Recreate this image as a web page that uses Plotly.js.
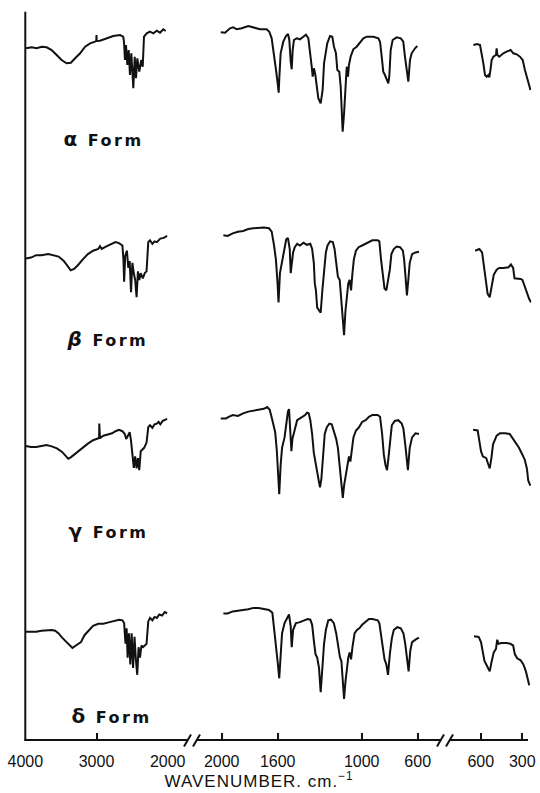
<!DOCTYPE html>
<html><head><meta charset="utf-8">
<script src="https://cdn.plot.ly/plotly-3.0.1.min.js"></script>
<style>html,body{margin:0;padding:0;background:#fff}#chart{width:540px;height:793px}</style>
</head><body><div id="chart"></div>
<script>
// ---- tick labels / categories ----
const leftTicks = [4000, 3000, 2000];
const midTicks = [2000, 1600, 1000, 600];
const rightTicks = [600, 300];
const formLetters = ['α', 'β', 'γ', 'δ'];
const axisTitle = 'WAVENUMBER. cm.<sup>−1</sup>';

// ---- alpha form (relative transmittance) ----
const alphaLeftWn = [3990,3910,3840,3770,3700,3630,3560,3490,3420,3360,3300,3230,3160,3090,3020,3003,3000,2997,2950,2860,2765,2670,2625,2614,2600,2586,2567,2548,2530,2511,2483,2463,2445,2427,2399,2371,2351,2333,2295,2249,2202,2154,2108,2062,2028];
const alphaLeftT = [86.7,87.7,86.7,88.3,87.7,85,80,75,71.7,72.3,76.7,81.7,88.3,91.7,93.3,94,100,94,94.3,96.7,99,100,98.3,93.3,75,90,70,85,60,81.7,46.7,78.3,56.7,76.7,63.3,75,68.3,98.3,101.7,103.3,101.7,104.3,102.3,105.7,104];
const alphaMidWn = [2007,1976,1941,1917,1893,1857,1810,1774,1726,1679,1660,1643,1626,1612,1600,1593,1588,1579,1560,1541,1526,1517,1507,1500,1493,1484,1464,1441,1417,1398,1381,1369,1357,1350,1341,1331,1321,1310,1293,1279,1269,1255,1246,1226,1210,1198,1184,1174,1160,1150,1141,1136,1126,1117,1107,1098,1091,1079,1060,1036,1012,988,964,917,881,869,857,846,834,821,810,803,793,779,750,721,703,691,679,667,655,643,619,603];
const alphaMidT = [102.7,102.3,106.7,107.7,105.7,106.7,109,107.7,105.7,105.7,103.3,96.7,81.7,65,51.7,42.3,58.3,81.7,93.3,99,101,95,73.3,65.7,85,95,96.7,95.7,98.3,100.3,96.7,85,68.3,58.3,66.7,60,48.3,36.7,31.7,45,71.7,83.3,91.7,99,98.3,88.3,81.7,65,63.3,48.3,21.7,3.3,21.7,45,68.3,58.3,70,78.3,85.7,88.3,92.3,96.7,98.3,98.3,96.7,93.3,78.3,63.3,60,55,51.7,58.3,85,95,97.7,96.7,93.3,78.3,65,53.3,75,81.7,86.7,89];
const alphaRightWn = [653,625,605,593,581,569,557,545,538,528,521,509,490,485,480,466,437,413,384,365,340,317,297,281,265,254,241];
const alphaRightT = [90,91,90,81.7,71.7,60,58.3,60,57.7,66.7,75,78.3,80,86.7,80,78.3,81.7,83.3,85,81.7,80.7,78.3,75,65,56.7,50,45];

// ---- beta form ----
const betaLeftWn = [3992,3920,3847,3774,3677,3605,3532,3459,3411,3362,3315,3265,3192,3121,3048,2975,2951,2927,2854,2781,2733,2684,2636,2622,2612,2597,2573,2553,2534,2515,2496,2476,2457,2437,2418,2399,2379,2350,2322,2297,2273,2249,2215,2185,2152,2104,2055,2007];
const betaLeftT = [81.4,82.4,84.8,84.8,85.9,84.8,83.4,79,73.8,69.7,71,74.5,80.7,85.9,89.3,91,93.8,91,93.8,96.2,97.9,96.9,94.5,80.7,58.3,84.1,89.3,72.1,79,47.9,77.2,66.9,60,42.8,68.6,60,66.9,61.7,66.9,68.6,97.9,99.7,96.2,98.6,97.9,101.4,102.1,104.1];
const betaMidWn = [1988,1958,1921,1884,1847,1810,1774,1736,1699,1662,1643,1626,1613,1601,1594,1584,1569,1551,1539,1527,1514,1507,1500,1490,1478,1461,1441,1416,1391,1367,1354,1342,1335,1327,1318,1305,1293,1281,1269,1256,1244,1226,1206,1194,1182,1170,1157,1145,1133,1126,1116,1106,1096,1086,1076,1066,1056,1041,1022,997,972,948,924,886,874,862,849,837,824,812,799,788,771,751,726,706,697,687,677,667,657,640,616,591];
const betaMidT = [104.8,104.1,106.6,108.3,109,111,111.7,112.4,112.4,111.7,108.3,94.5,80.7,56.6,37.6,66.9,79,91,100.7,102.1,91,66.9,77.2,87.6,92.8,96.2,94.5,97.2,95.2,96.2,91,77.2,56.6,49.7,32.4,29,27.2,49.7,70.3,87.6,94.5,98.6,97.9,91,77.2,63.4,60,35.9,15.2,4.8,29,46.2,56.6,60,49.7,66.9,80.7,89.3,92.8,94.5,96.2,98.6,99.7,99.7,98.6,80.7,61.7,51.4,49.7,58.3,70.3,85.9,91,93.4,92.8,89.3,80.7,63.4,44.5,60,77.2,85.9,87.6,88.3];
const betaRightWn = [640,610,590,580,570,560,550,535,523,506,485,466,436,399,382,366,356,337,312,299,287,267,250,237];
const betaRightT = [89.3,91,87.6,77.2,66.9,53.1,46.2,42.8,53.1,65.2,70.3,72.1,72.1,72.8,75.5,72.1,61.7,61.7,61,60,54.8,47.9,41,37.6];

// ---- gamma form ----
const gammaLeftWn = [3992,3920,3847,3774,3701,3629,3556,3483,3435,3396,3362,3315,3242,3192,3121,3048,2975,2963,2961,2958,2951,2903,2830,2781,2733,2684,2636,2603,2583,2563,2534,2515,2490,2476,2457,2437,2418,2399,2379,2360,2331,2297,2273,2249,2215,2185,2152,2128,2104,2069,2031,2007];
const gammaLeftT = [54,52.9,52.9,53.6,55,53.6,51.6,48.1,44.7,41.2,42.6,45.3,49.5,52.9,56.4,59.8,61.9,62,76.4,62,61.9,64.3,66,66.7,68.8,70.2,68.8,66,60.9,64.3,67.8,59.1,41.9,32.2,43.6,31.6,41.9,29.8,48.8,50.5,52.2,57.4,72.9,74.7,72.2,75.7,76.4,78.1,75.7,79.1,80.5,81.2];
const gammaMidWn = [2007,1970,1946,1921,1884,1847,1810,1774,1736,1699,1675,1657,1638,1618,1606,1594,1589,1579,1569,1551,1539,1527,1519,1510,1502,1495,1478,1461,1441,1421,1404,1391,1379,1367,1354,1342,1330,1318,1305,1298,1288,1276,1264,1249,1231,1214,1199,1182,1170,1157,1145,1135,1126,1113,1101,1091,1081,1071,1059,1041,1022,997,972,948,924,886,869,854,842,830,819,809,799,785,764,739,714,702,689,677,670,657,640,616,591];
const gammaMidT = [81.6,81.6,83.3,85,84,86.7,88.4,89.5,90.2,91.2,92.9,90.2,79.8,67.8,48.8,21.2,5.7,35,52.2,62.6,74.7,88.4,90.9,66,48.8,60.9,71.2,79.8,81.6,83.3,85,87.4,86.7,79.8,66,47.1,35,28.1,17.8,12.6,21.2,45.3,66,72.9,76.4,75.7,69.5,60.9,52.2,31.6,14.3,2.2,14.3,24.7,36.7,43.6,38.4,48.8,62.6,69.5,72.2,78.1,79.8,83.3,85,85,83.3,66,45.3,35,29.8,41.9,59.1,74.7,79.1,79.8,76.4,71.2,55.7,38.4,29.8,52.2,62.6,66.7,66];
const gammaRightWn = [655,622,610,598,585,560,548,535,523,511,485,461,423,391,374,349,324,299,282,267,257,242];
const gammaRightT = [70.2,69.5,59.1,48.8,43.6,41.9,36.7,31.6,41.9,55.7,64.3,66.7,66.7,66,62.6,57.4,52.2,45.3,40.2,31.6,19.5,14.3];

// ---- delta form ----
const deltaLeftWn = [3992,3920,3847,3774,3701,3629,3580,3532,3483,3411,3338,3289,3218,3169,3105,3048,2975,2903,2830,2757,2684,2636,2612,2593,2577,2563,2544,2525,2506,2486,2466,2447,2428,2409,2389,2369,2346,2297,2273,2249,2215,2185,2152,2118,2079,2041,2007];
const deltaLeftT = [70.3,70.3,70.3,71.3,72,72,71.3,68.6,64.4,58.9,54.1,56.5,59.9,66.8,72,76.1,78.2,78.2,79.6,80.6,82.3,81.7,78.9,58.2,73.7,44.4,68.6,37.5,68.6,34.1,65.1,42.7,27.2,54.8,44.4,56.5,54.8,58.2,80.6,84.1,81.7,85.1,84.1,87.5,86.5,89.9,88.6];
const deltaMidWn = [1988,1958,1921,1884,1847,1810,1774,1736,1699,1662,1638,1626,1613,1601,1589,1579,1569,1551,1534,1519,1507,1500,1490,1470,1446,1416,1386,1367,1354,1342,1330,1318,1305,1293,1281,1269,1256,1239,1219,1199,1182,1165,1155,1145,1135,1126,1116,1106,1096,1086,1076,1066,1051,1034,1017,997,972,948,924,886,874,862,849,837,824,812,799,785,771,746,721,702,689,677,665,653,640,616,591];
const deltaMidT = [88.6,88.6,90.6,91,92,92.7,94.1,94.1,92.7,92,89.2,75.4,58.2,41,23.7,51.3,68.6,78.9,84.1,87.5,75.4,54.8,72,78.9,79.6,81.7,83,82.3,77.2,61.7,47.9,44.4,34.1,9.9,34.1,58.2,72,81.7,82.3,78.9,68.6,51.3,44.4,41,23.7,3,20.3,35.8,44.4,49.6,42.7,54.8,68.6,72,73.7,77.2,80.6,83,83,81.7,78.9,66.8,51.3,42.7,37.5,27.2,47.9,63.4,72,74.8,73.7,68.6,58.2,44.4,30.6,51.3,59.9,62.3,64.4];
const deltaRightWn = [648,615,598,585,573,560,548,535,523,506,490,481,471,449,411,387,366,354,337,312,292,274,262,250];
const deltaRightT = [65.8,65.1,59.9,51.3,41,37.5,34.1,30.6,39.2,49.6,53,62.3,58.2,58.9,58.9,58.2,56.5,47.9,43.7,41.7,37.5,30.6,23.7,16.8];

// ---- layout helpers (pixel geometry of the figure) ----
const W = 540, H = 793, PLOT_H = 740;
const px = p => p / W;
const py = p => (PLOT_H - p) / PLOT_H;
const INK = '#111';

const forms = [
  {L:[alphaLeftWn,alphaLeftT], M:[alphaMidWn,alphaMidT], R:[alphaRightWn,alphaRightT]},
  {L:[betaLeftWn,betaLeftT], M:[betaMidWn,betaMidT], R:[betaRightWn,betaRightT]},
  {L:[gammaLeftWn,gammaLeftT], M:[gammaMidWn,gammaMidT], R:[gammaRightWn,gammaRightT]},
  {L:[deltaLeftWn,deltaLeftT], M:[deltaMidWn,deltaMidT], R:[deltaRightWn,deltaRightT]}
];
const panelBase = [135, 340, 500, 702];     // pixel row of value 0 for each panel
const labelY = [139, 339, 530.5, 715.5];
const labelX = [103, 107, 108, 111];

const traces = [];
forms.forEach((f, i) => {
  const ya = i === 0 ? 'y' : 'y' + (i + 1);
  [['L','x'],['M','x2'],['R','x3']].forEach(([k, xa]) => {
    traces.push({x: f[k][0], y: f[k][1], type: 'scatter', mode: 'lines',
      xaxis: xa, yaxis: ya, line: {color: INK, width: 2}, hoverinfo: 'skip', showlegend: false});
  });
});

function xax(d0, d1, range, ticks) {
  return {domain: [px(d0), px(d1)], range: range, anchor: 'free', position: 0,
    tickmode: 'array', tickvals: ticks, ticktext: ticks.map(String),
    ticks: 'inside', ticklen: 7, tickwidth: 2, tickcolor: INK,
    showline: false, showgrid: false, zeroline: false, ticklabelstandoff: 10,
    tickfont: {family: 'Liberation Sans, Arial, sans-serif', size: 16, color: INK}};
}
function yax(base) {
  return {domain: [py(base + 3), py(base - 115)], range: [-3, 115], visible: false};
}

const layout = {
  width: W, height: H, margin: {l: 0, r: 0, t: 0, b: H - PLOT_H},
  paper_bgcolor: '#fff', plot_bgcolor: '#fff', showlegend: false,
  xaxis: xax(25.3, 167.7, [4000, 2000], leftTicks),
  xaxis2: xax(218.9, 420.5, [2020, 580], midTicks),
  xaxis3: xax(472.4, 531.3, [660, 235], rightTicks),
  yaxis: yax(panelBase[0]), yaxis2: yax(panelBase[1]),
  yaxis3: yax(panelBase[2]), yaxis4: yax(panelBase[3]),
  shapes: [],
  annotations: []
};
const seg = (x0, y0, x1, y1) => ({type: 'line', xref: 'paper', yref: 'paper',
  x0: px(x0), y0: py(y0), x1: px(x1), y1: py(y1), line: {color: INK, width: 2}});
layout.shapes.push(seg(25.3, 740.5, 25.3, 11.7));
layout.shapes.push(seg(24.3, 740, 187.5, 740));
layout.shapes.push(seg(196.5, 740, 440.5, 740));
layout.shapes.push(seg(449.5, 740, 528, 740));
[187.5, 196.5, 440.5, 449.5].forEach(c => layout.shapes.push(seg(c - 3.5, 746.5, c + 3.5, 734.5)));

formLetters.forEach((g, i) => {
  layout.annotations.push({xref: 'paper', yref: 'paper', x: px(labelX[i]), y: py(labelY[i]),
    xanchor: 'center', yanchor: 'middle', showarrow: false,
    text: '<b><span style="font-size:20px">' + (i === 1 ? '<i>' + g + '</i>' : g) + '</span> Form</b>',
    font: {family: 'DejaVu Sans, sans-serif', size: 16, color: INK}});
});
layout.annotations.push({xref: 'paper', yref: 'paper', x: px(259), y: py(793),
  xanchor: 'center', yanchor: 'bottom', showarrow: false, text: axisTitle,
  font: {family: 'Liberation Sans, Arial, sans-serif', size: 17, color: INK}});

Plotly.newPlot('chart', traces, layout, {staticPlot: true, displayModeBar: false}).then(gd => {
  gd.querySelectorAll('.annotation-text').forEach(t => {
    t.style.letterSpacing = t.textContent.indexOf('WAVENUMBER') >= 0 ? '1px' : '2.5px';
  });
});
</script></body></html>
